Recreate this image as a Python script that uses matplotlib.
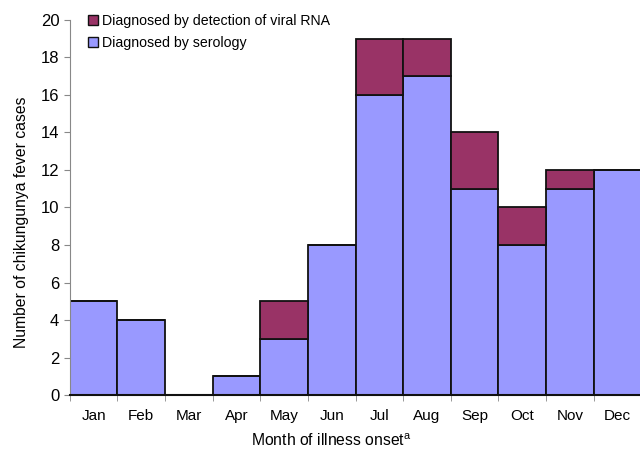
import matplotlib
matplotlib.use("Agg")
import matplotlib.pyplot as plt
import numpy as np
from matplotlib.patches import Patch

plt.rcParams['font.family'] = ['Liberation Sans', 'DejaVu Sans']
plt.rcParams['font.size'] = 10.5

months = ["Jan", "Feb", "Mar", "Apr", "May", "Jun",
          "Jul", "Aug", "Sep", "Oct", "Nov", "Dec"]
serology = [5, 4, 0, 1, 3, 8, 16, 17, 11, 8, 11, 12]
viral_rna = [0, 0, 0, 0, 2, 0, 3, 2, 3, 2, 1, 0]

fig = plt.figure(figsize=(6.4, 4.51), dpi=100)
ax = fig.add_axes([0.109, 0.124, 0.893, 0.832])

x = np.arange(len(months))
ax.bar(x, serology, width=1.0, color="#9999ff", edgecolor="#111111", linewidth=1.3)
ax.bar(x, viral_rna, width=1.0, bottom=serology, color="#993366",
       edgecolor="#111111", linewidth=1.3)

ax.set_xlim(-0.5, 11.5)
ax.set_ylim(0, 20)
ax.set_yticks(range(0, 21, 2))
ax.set_xticks(x)
ax.set_xticklabels(months)
ax.set_xticks(np.arange(-0.5, 12, 1), minor=True)
ax.tick_params(axis='x', which='major', length=0, pad=10, labelsize=11)
ax.tick_params(axis='x', which='minor', length=4, color="#888888")
ax.tick_params(axis='y', length=4, color="#888888", labelsize=12)

for s in ["top", "right"]:
    ax.spines[s].set_visible(False)
ax.spines["left"].set_color("#888888")
ax.spines["bottom"].set_color("#111111")
ax.spines["bottom"].set_linewidth(1.5)

ax.set_ylabel("Number of chikungunya fever cases", fontsize=11.3)
ax.set_xlabel("Month of illness onset$^{\\mathregular{a}}$", fontsize=11.3)
ax.yaxis.set_label_coords(-0.072, 0.46)
ax.xaxis.set_label_coords(0.457, -0.1)

handles = [Patch(facecolor="#993366", edgecolor="#111111", label="Diagnosed by detection of viral RNA"),
           Patch(facecolor="#9999ff", edgecolor="#111111", label="Diagnosed by serology")]
ax.legend(handles=handles, loc="upper left", bbox_to_anchor=(0.01, 1.05),
          frameon=False, handlelength=0.7, handleheight=0.7, handletextpad=0.25,
          labelspacing=0.55, fontsize=10.2)

fig.savefig("out.png", dpi=100)
